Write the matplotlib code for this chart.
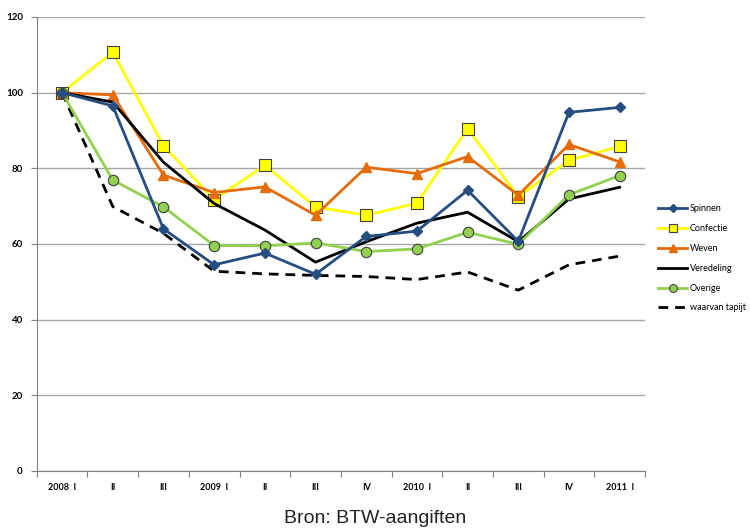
import matplotlib
matplotlib.use("Agg")
import matplotlib.pyplot as plt
import numpy as np

categories = ["2008  I", "II", "III", "2009  I", "II", "III", "IV",
              "2010  I", "II", "III", "IV", "2011  I"]
spinnen = [100, 96.5, 64, 54.5, 57.6, 52, 62, 63.4, 74.2, 60.7, 94.8, 96.1]
confectie = [100, 110.7, 86, 71.7, 80.8, 69.8, 67.6, 70.8, 90.5, 72.5, 82.1, 85.8]
weven = [100, 99.4, 78.2, 73.6, 75.1, 67.6, 80.3, 78.6, 83.1, 72.9, 86.3, 81.7]
veredeling = [100, 97.5, 81.6, 70.7, 63.7, 55.2, 60.6, 65.5, 68.4, 60.6, 71.9, 75]
overige = [100, 76.9, 69.8, 59.6, 59.5, 60.3, 58, 58.7, 63.1, 59.9, 73, 78.1]
tapijt = [100, 69.9, 62.8, 52.8, 52.1, 51.7, 51.4, 50.6, 52.6, 47.8, 54.5, 56.8]
yticks = [0, 20, 40, 60, 80, 100, 120]

plt.rcParams['font.family'] = ['Lato', 'DejaVu Sans']

fig = plt.figure(figsize=(7.5, 5.31), dpi=100)
ax = fig.add_axes([0.049, 0.113, 0.811, 0.855])

x = np.arange(len(categories))
edge = '#404040'
ax.plot(x, spinnen, color='#264D80', lw=2.0, marker='D', ms=5,
        mfc='#264D80', mec='#264D80', label='Spinnen', zorder=5)
ax.plot(x, confectie, color='#FFFF00', lw=2.0, marker='s', ms=8,
        mfc='#FFFF00', mec=edge, mew=0.8, label='Confectie', zorder=4)
ax.plot(x, weven, color='#E46C0A', lw=2.0, marker='^', ms=7.5,
        mfc='#E46C0A', mec='#E46C0A', label='Weven', zorder=4)
ax.plot(x, veredeling, color='black', lw=2.0, label='Veredeling', zorder=4)
ax.plot(x, overige, color='#92D050', lw=2.0, marker='o', ms=7.5,
        mfc='#92D050', mec=edge, mew=0.8, label='Overige', zorder=4)
ax.plot(x, tapijt, color='black', lw=2.0, ls=(0, (3.5, 2.5)),
        label='waarvan tapijt', zorder=3)

ax.set_xlim(-0.5, len(categories) - 0.5)
ax.set_ylim(0, 120)
ax.set_yticks(yticks)
ax.set_yticklabels([str(v) for v in yticks], fontsize=7, fontweight='bold')
ax.yaxis.grid(True, color='#A6A6A6', lw=1)
ax.set_axisbelow(True)

ax.set_xticks(np.arange(-0.5, len(categories), 1))
ax.set_xticklabels([])
ax.set_xticks(x, minor=True)
ax.set_xticklabels(categories, minor=True, fontsize=6.5, fontweight='bold')
ax.tick_params(axis='x', which='minor', length=0, pad=9)
ax.tick_params(axis='x', which='major', length=4, color='#808080', direction='out')
ax.tick_params(axis='y', length=4, color='#808080', direction='out', pad=6)

for s in ['top', 'right']:
    ax.spines[s].set_visible(False)
ax.spines['left'].set_color('#808080')
ax.spines['bottom'].set_color('#808080')

leg = fig.legend(loc='upper left', bbox_to_anchor=(0.873, 0.622), frameon=False,
                 fontsize=6.5, handlelength=3.2, labelspacing=1.2,
                 handletextpad=0.3, borderaxespad=0, markerscale=0.75)

fig.text(0.5, 0.008, "Bron: BTW-aangiften", ha='center', va='bottom',
         fontsize=14, family=['Liberation Sans Narrow', 'Liberation Sans', 'DejaVu Sans'],
         color='#222222')

fig.savefig('out.png', dpi=100)
